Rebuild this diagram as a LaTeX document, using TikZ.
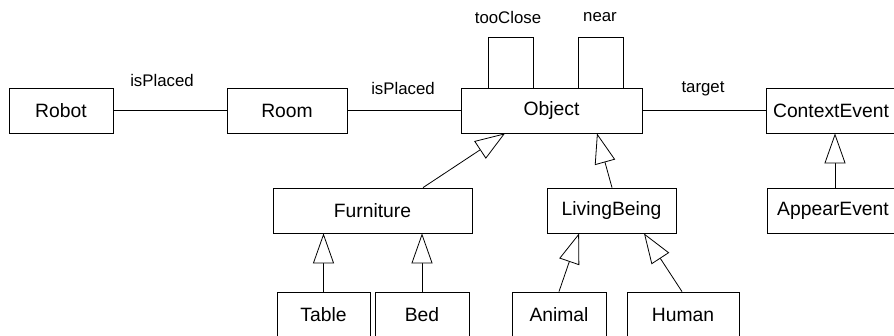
\documentclass[tikz,border=0pt]{standalone}
\usepackage{fontspec}
\setmainfont{Liberation Sans}
\usetikzlibrary{arrows.meta}
\begin{document}
\begin{tikzpicture}[x=1pt,y=-1pt,
  cls/.style={draw,line width=0.8pt,rectangle,minimum height=45pt,inner sep=0pt,font=\fontsize{19.3}{21}\selectfont},
  lbl/.style={inner sep=0pt,font=\fontsize{16.8}{18}\selectfont},
  assoc/.style={line width=0.8pt},
  gen/.style={line width=0.8pt,-{Triangle[open,length=30pt,width=21pt,fill=white]}}]
\useasboundingbox (0,0) rectangle (894,335);
\node[cls,minimum width=104pt] (robot) at (61,110.5) {Robot};
\node[cls,minimum width=120pt] (room) at (287,110.5) {Room};
\node[cls,minimum width=181pt] (object) at (551.5,110.5) {Object};
\node[cls,minimum width=130pt] (ctx) at (831,110.5) {ContextEvent};
\node[cls,minimum width=199pt] (furn) at (372.5,210.5) {Furniture};
\node[cls,minimum width=129pt] (living) at (611.5,210.5) {LivingBeing};
\node[cls,minimum width=132pt] (appear) at (833,210.5) {AppearEvent};
\node[cls,minimum width=93pt] (table) at (323.5,314.5) {Table};
\node[cls,minimum width=94pt] (bed) at (422,314.5) {Bed};
\node[cls,minimum width=94pt] (animal) at (559,314.5) {Animal};
\node[cls,minimum width=112pt] (human) at (683,314.5) {Human};
% labels
\node[lbl] (l1) at (162,80) {isPlaced};
\node[lbl] (l2) at (403,88) {isPlaced};
\node[lbl] (l3) at (508,17) {tooClose};
\node[lbl] (l4) at (600,17) {near};
\node[lbl] (l5) at (703,89) {target};
% associations
\draw[assoc] (robot) -- (room);
\draw[assoc] (room) -- (object);
\draw[assoc] (object) -- (ctx);
\draw[assoc] ([xshift=-63.5pt]object.north) -- ++(0,-50) -| ([xshift=-18.5pt]object.north);
\draw[assoc] ([xshift=26.5pt]object.north) -- ++(0,-50) -| ([xshift=71.5pt]object.north);
% generalizations
\draw[gen] ([xshift=50.5pt]furn.north) -- ([xshift=-46.5pt]object.south);
\draw[gen] ([xshift=0.5pt]living.north) -- ([xshift=45.5pt]object.south);
\draw[gen] (appear.north -| 835,0) -- (ctx.south -| 835,0);
\draw[gen] (table.north) -- (table.north |- furn.south);
\draw[gen] (bed.north) -- (bed.north |- furn.south);
\draw[gen] (animal.north) -- ([xshift=-32.5pt]living.south);
\draw[gen] ([xshift=-1pt]human.north) -- ([xshift=32.5pt]living.south);
\end{tikzpicture}
\end{document}
